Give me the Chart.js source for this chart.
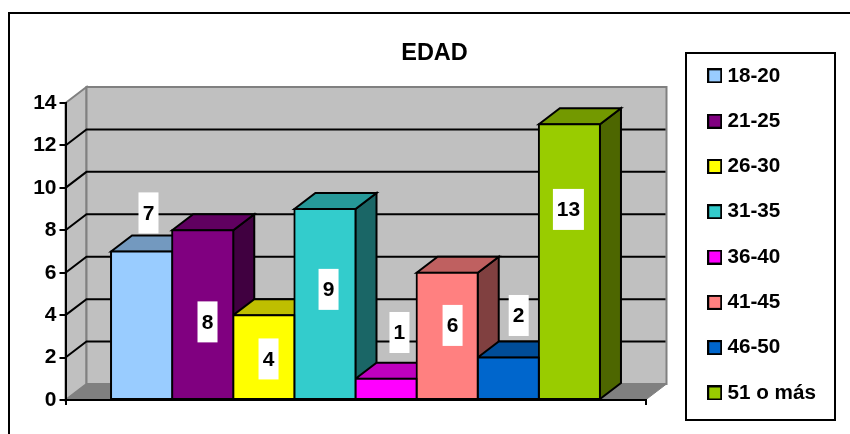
<!DOCTYPE html>
<html>
<head>
<meta charset="utf-8">
<style>html,body{margin:0;padding:0;background:#fff}canvas{display:block}</style>
<script src="https://cdn.jsdelivr.net/npm/chart.js@4/dist/chart.umd.min.js"></script>
</head>
<body>
<canvas id="c" width="850" height="434"></canvas>
<script>
const chartTitle = 'EDAD';
const ageGroups = ['18-20', '21-25', '26-30', '31-35', '36-40', '41-45', '46-50', '51 o más'];
const counts = [7, 8, 4, 9, 1, 6, 2, 13];
const barColors = ['#99CCFF', '#800080', '#FFFF00', '#33CCCC', '#FF00FF', '#FF8080', '#0066CC', '#99CC00'];
const yTickStep = 2;
const yMax = 14;

const FONT = 'Liberation Sans, Arial, sans-serif';
const DEPTH_X = 21, DEPTH_Y = -16;
// label box offset from each bar's front-top-centre point (placement seen in the original)
const labelDX = [6.9, 4.8, 4.7, 3.6, 13.4, 5.4, 10.4, -1];
const labelDY = [-38.6, 91.6, 43.8, 80.3, -46.3, 52.7, -42.1, 85.2];

function shade(hex, f) {
  const n = parseInt(hex.slice(1), 16);
  return 'rgb(' + [(n >> 16) & 255, (n >> 8) & 255, n & 255].map(v => Math.round(v * f)).join(',') + ')';
}
function poly(ctx, pts, fill, stroke, lw) {
  ctx.beginPath();
  pts.forEach((p, i) => i ? ctx.lineTo(p[0], p[1]) : ctx.moveTo(p[0], p[1]));
  ctx.closePath();
  if (fill) { ctx.fillStyle = fill; ctx.fill(); }
  if (stroke) { ctx.strokeStyle = stroke; ctx.lineWidth = lw; ctx.lineJoin = 'miter'; ctx.stroke(); }
}
function swatch(color) {
  const c = document.createElement('canvas');
  c.width = 15; c.height = 15;
  const g = c.getContext('2d');
  g.fillStyle = '#000'; g.fillRect(0, 0, 15, 15);
  g.fillStyle = color; g.fillRect(2, 2, 11, 11);
  return c;
}

const scene3d = {
  id: 'scene3d',
  beforeLayout(chart) {
    const l = chart.legend;
    if (l && !l.__patched) {
      const fit = l.fit;
      l.fit = function () { fit.call(this); this.width = 0; };
      l.__patched = true;
    }
  },
  afterLayout(chart) {
    const l = chart.legend, pad = l.options.labels.padding;
    l.left = 712.4 - pad; l.right = 835; l.width = 835 - l.left;
    l.top = 65.5 - pad; l.bottom = 434; l.height = 434 - l.top;
    chart.titleBlock.left = 0; chart.titleBlock.right = 869;
  },
  beforeDraw(chart) {
    const ctx = chart.ctx, a = chart.chartArea, y = chart.scales.y;
    const L = a.left, R = a.right, T = y.getPixelForValue(yMax), B = y.getPixelForValue(0);
    ctx.save();
    // outer frame
    ctx.strokeStyle = '#000'; ctx.lineWidth = 2;
    ctx.beginPath(); ctx.moveTo(9, 434); ctx.lineTo(9, 13); ctx.lineTo(850, 13); ctx.stroke();
    // walls and floor
    poly(ctx, [[L, T], [L + DEPTH_X, T + DEPTH_Y], [L + DEPTH_X, B + DEPTH_Y], [L, B]], '#C0C0C0', '#808080', 2);
    poly(ctx, [[L + DEPTH_X, T + DEPTH_Y], [R + DEPTH_X, T + DEPTH_Y], [R + DEPTH_X, B + DEPTH_Y], [L + DEPTH_X, B + DEPTH_Y]], '#C0C0C0', '#808080', 2);
    // grid lines
    ctx.strokeStyle = '#000'; ctx.lineWidth = 2;
    y.ticks.forEach(t => {
      if (t.value === 0 || t.value === yMax) return;
      const p = y.getPixelForValue(t.value);
      ctx.beginPath();
      ctx.moveTo(L, p); ctx.lineTo(L + DEPTH_X, p + DEPTH_Y); ctx.lineTo(R + DEPTH_X - 1, p + DEPTH_Y);
      ctx.stroke();
    });
    poly(ctx, [[L, B], [L + DEPTH_X, B + DEPTH_Y], [R + DEPTH_X, B + DEPTH_Y], [R, B]], '#808080', '#808080', 1);
    // legend frame
    ctx.fillStyle = '#fff';
    ctx.fillRect(686, 53, 149, 367);
    ctx.strokeStyle = '#000'; ctx.lineWidth = 2;
    ctx.strokeRect(686, 53, 149, 367);
    ctx.restore();
  },
  beforeDatasetsDraw(chart) {
    const ctx = chart.ctx;
    ctx.save();
    chart.data.datasets.forEach((ds, i) => {
      const bar = chart.getDatasetMeta(i).data[0];
      const l = bar.x - bar.width / 2, r = bar.x + bar.width / 2, t = bar.y, b = bar.base;
      poly(ctx, [[r, t], [r + DEPTH_X, t + DEPTH_Y], [r + DEPTH_X, b + DEPTH_Y], [r, b]], shade(barColors[i], 0.5), '#000', 2);
      poly(ctx, [[l, t], [l + DEPTH_X, t + DEPTH_Y], [r + DEPTH_X, t + DEPTH_Y], [r, t]], shade(barColors[i], 0.75), '#000', 2);
    });
    ctx.restore();
  },
  afterDatasetsDraw(chart) {
    const ctx = chart.ctx;
    ctx.save();
    ctx.font = 'bold 21px ' + FONT;
    ctx.textAlign = 'center';
    ctx.textBaseline = 'middle';
    chart.data.datasets.forEach((ds, i) => {
      const bar = chart.getDatasetMeta(i).data[0];
      const txt = String(ds.data[0]);
      const cx = bar.x + labelDX[i], cy = bar.y + labelDY[i];
      const w = Math.round(ctx.measureText(txt).width) + 8;
      ctx.fillStyle = '#fff';
      ctx.fillRect(cx - w / 2, cy - 20.5, w, 41);
      ctx.fillStyle = '#000';
      ctx.fillText(txt, cx, cy + 1);
    });
    ctx.restore();
  }
};

new Chart(document.getElementById('c'), {
  type: 'bar',
  data: {
    labels: [chartTitle],
    datasets: ageGroups.map((name, i) => ({
      label: name,
      data: [counts[i]],
      backgroundColor: barColors[i],
      borderColor: '#000',
      borderWidth: 2,
      borderSkipped: false,
      inflateAmount: 1,
      barPercentage: 1,
      categoryPercentage: 0.843
    }))
  },
  options: {
    responsive: false,
    animation: false,
    layout: { padding: { left: 0, top: 0, right: 204.5, bottom: 0 } },
    scales: {
      x: {
        offset: true,
        ticks: { display: false },
        border: { color: '#000', width: 2 },
        grid: { offset: true, drawOnChartArea: false, drawTicks: true, tickLength: 5, color: '#000', lineWidth: 2 },
        afterFit(s) { s.height = 34; }
      },
      y: {
        min: 0,
        max: yMax,
        ticks: { stepSize: yTickStep, color: '#000', padding: 3, font: { family: FONT, size: 21, weight: 'bold' } },
        border: { color: '#000', width: 2 },
        grid: { drawOnChartArea: false, drawTicks: true, tickLength: 6, color: '#000', lineWidth: 2 },
        afterFit(s) { s.width = 65.5; }
      }
    },
    plugins: {
      title: {
        display: true,
        text: chartTitle,
        color: '#000',
        font: { family: FONT, size: 23.5, weight: 'bold' },
        padding: { top: 39.7, bottom: 35.1 }
      },
      legend: {
        position: 'right',
        align: 'start',
        labels: {
          color: '#000',
          font: { family: FONT, size: 20.7, weight: 'bold' },
          usePointStyle: true,
          pointStyleWidth: 4.7,
          padding: 24.6,
          generateLabels(chart) {
            return Chart.defaults.plugins.legend.labels.generateLabels(chart).map((item, i) => {
              item.pointStyle = swatch(barColors[i]);
              return item;
            });
          }
        }
      },
      tooltip: { enabled: false }
    }
  },
  plugins: [scene3d]
});
</script>
</body>
</html>
